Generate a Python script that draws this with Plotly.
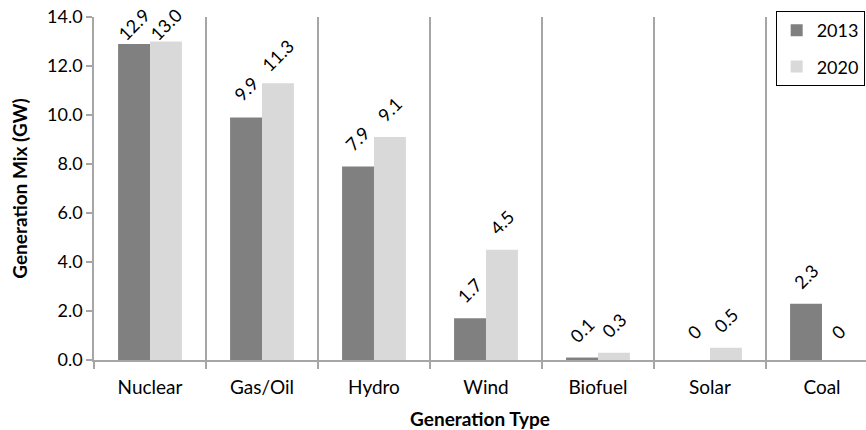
import plotly.graph_objects as go

# Generation mix by type, GW
categories = ["Nuclear", "Gas/Oil", "Hydro", "Wind", "Biofuel", "Solar", "Coal"]
gen_2013 = [12.9, 9.9, 7.9, 1.7, 0.1, 0, 2.3]
gen_2020 = [13.0, 11.3, 9.1, 4.5, 0.3, 0.5, 0]
y_ticks = [0, 2, 4, 6, 8, 10, 12, 14]


def fmt(v):
    return "0" if v == 0 else f"{v:.1f}"


FONT = "Lato, Carlito, sans-serif"
GRID = "#a6a6a6"

HEIGHT, TOP, BOTTOM = 430, 17, 70
Y_MAX = 14
PX_PER_UNIT = (HEIGHT - TOP - BOTTOM) / Y_MAX
LABEL_LIFT = 28      # label centre above the bar top, px
LABEL_MIN_TOP = 24   # keep labels inside the figure

fig = go.Figure()
series = [("2013", gen_2013, "#808080", -16), ("2020", gen_2020, "#d9d9d9", 16)]
for name, vals, color, dx in series:
    fig.add_trace(go.Bar(
        name=name,
        x=categories,
        y=vals,
        marker=dict(color=color, line=dict(width=0)),
        legendgroup=name,
    ))
    # rotated value labels above each bar
    for cat, v in zip(categories, vals):
        bar_top_px = TOP + (Y_MAX - v) * PX_PER_UNIT
        lift = min(LABEL_LIFT, bar_top_px - LABEL_MIN_TOP)
        fig.add_annotation(
            x=cat, y=v, xref="x", yref="y",
            text=fmt(v), showarrow=False, textangle=-45,
            xshift=dx, yshift=lift,
            xanchor="center", yanchor="middle",
            font=dict(family=FONT, size=18, color="#000000"),
        )

fig.update_layout(
    width=866,
    height=HEIGHT,
    margin=dict(l=94, r=0, t=TOP, b=BOTTOM),
    paper_bgcolor="white",
    plot_bgcolor="white",
    barmode="group",
    bargap=0.43,
    bargroupgap=0,
    font=dict(family=FONT, size=18, color="#000000"),
    showlegend=True,
    legend=dict(
        x=0.883, xanchor="left",
        y=1.0175, yanchor="top",
        bordercolor="#000000", borderwidth=1,
        bgcolor="white",
        font=dict(family=FONT, size=18),
        tracegroupgap=10,
    ),
    xaxis=dict(
        type="category",
        range=[-0.5, 6.393],
        showline=True, linecolor=GRID, linewidth=1.5,
        showgrid=True, gridcolor=GRID, gridwidth=1.5,
        tickson="boundaries",
        ticks="outside", ticklen=7, tickcolor=GRID, tickwidth=1.5,
        ticklabelstandoff=9,
        tickfont=dict(family=FONT, size=19),
        title=dict(text="<b>Generation Type</b>", font=dict(family=FONT, size=19), standoff=19),
    ),
    yaxis=dict(
        range=[0, Y_MAX],
        tickvals=y_ticks,
        ticktext=[f"{v:.1f}" for v in y_ticks],
        showline=True, linecolor=GRID, linewidth=1.5,
        showgrid=False, zeroline=False,
        ticks="outside", ticklen=6, tickcolor=GRID, tickwidth=1.5,
        tickfont=dict(family=FONT, size=18),
        title=dict(text="<b>Generation Mix (GW)</b>", font=dict(family=FONT, size=19), standoff=14),
    ),
)

fig.write_html("out.html")
